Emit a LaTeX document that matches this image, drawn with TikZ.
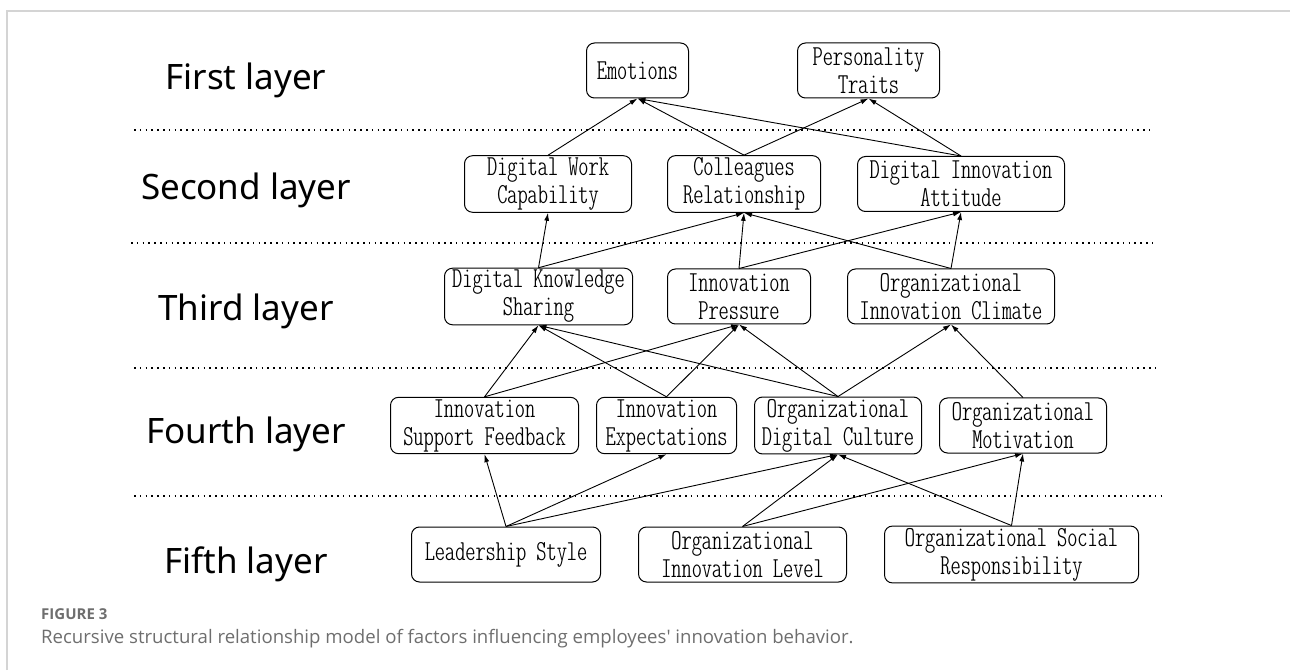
\documentclass[tikz,border=0pt]{standalone}
\usepackage{fontspec}
\usepackage{xcolor}
\usepackage{tikz}
\usetikzlibrary{positioning}
\usetikzlibrary{arrows.meta}
\newfontfamily\layerfont{Noto Sans}
\newfontfamily\capfont{Open Sans}
\newcommand{\boxfont}{\ttfamily\fontseries{lc}\fontsize{29}{28}\selectfont}
\definecolor{framegray}{RGB}{212,212,212}
\definecolor{capgray}{RGB}{110,110,110}
\tikzset{
  myarrow/.style={
    draw=black,
    line width=0.9pt,
    -{Latex[length=8pt,width=5pt]},
  },
  mybox/.style={
    draw=black,
    shape=rectangle,
    line width=1pt,
    rounded corners=8pt,
    align=center,
    inner sep=2pt,
    minimum height=55pt,
    font=\boxfont,
  },
  mylayer/.style={
    anchor=base,
    font=\layerfont\fontsize{35}{40}\selectfont,
  },
  mydots/.style={
    draw=black,
    line width=1.6pt,
    dash pattern=on 1.6pt off 4.2pt,
  }
}

\begin{document}
\begin{tikzpicture}[x=1pt,y=1pt]
    \useasboundingbox (0,0) rectangle (1290,670);
    \draw[framegray, line width=2pt] (7,0) -- (7,659) -- (1290,659);

    % layer names
    \node[mylayer] (lay1) at (246,580) {First layer};
    \node[mylayer] (lay2) at (246,470) {Second layer};
    \node[mylayer] (lay3) at (246,349) {Third layer};
    \node[mylayer] (lay4) at (246,226) {Fourth layer};
    \node[mylayer] (lay5) at (246,97)  {Fifth layer};

    % separators
    \draw[mydots] (134,540) -- (1150,540);
    \draw[mydots] (131,427) -- (1153,427);
    \draw[mydots] (134,302) -- (1155,302);
    \draw[mydots] (134,174) -- (1161,174);

    % first layer
    \node[mybox, minimum width=102pt, anchor=west] (emo)  at (586,599.5) {Emotions};
    \node[mybox, minimum width=142pt] (pers) [right=108pt of emo] {Personality\\Traits};

    % second layer
    \node[mybox, minimum width=167pt, anchor=west] (dwc)  at (464,486) {Digital Work\\Capability};
    \node[mybox, minimum width=153pt] (colrel) [right=35pt of dwc]    {Colleagues\\Relationship};
    \node[mybox, minimum width=207pt] (dia)    [right=36pt of colrel] {Digital Innovation\\Attitude};

    % third layer
    \node[mybox, minimum width=188pt, anchor=west] (dks)  at (444,373.5) {Digital Knowledge\\Sharing};
    \node[mybox, minimum width=143pt] (ip)  [right=34pt of dks] {Innovation\\Pressure};
    \node[mybox, minimum width=207pt] (oic) [right=36pt of ip]  {Organizational\\Innovation Climate};

    % fourth layer
    \node[mybox, minimum width=188pt, anchor=west] (isf)  at (390,244.5) {Innovation\\Support Feedback};
    \node[mybox, minimum width=140pt] (ie)  [right=17pt of isf] {Innovation\\Expectations};
    \node[mybox, minimum width=167pt] (odc) [right=17pt of ie]  {Organizational\\Digital Culture};
    \node[mybox, minimum width=167pt] (om)  [right=17pt of odc] {Organizational\\Motivation};

    % fifth layer
    \node[mybox, minimum width=189pt, anchor=west] (ls)  at (411,115.5) {Leadership Style};
    \node[mybox, minimum width=208pt] (oil) [right=37pt of ls]  {Organizational\\Innovation Level};
    \node[mybox, minimum width=254pt] (osr) [right=37pt of oil] {Organizational Social\\Responsibility};

    % second -> first
    \draw[myarrow] (dwc.north)    -- (emo.south);
    \draw[myarrow] (colrel.north) -- (emo.south);
    \draw[myarrow] (colrel.north) -- (pers.south);
    \draw[myarrow] (dia.north)    -- (emo.south);
    \draw[myarrow] (dia.north)    -- (pers.south);

    % third -> second
    \draw[myarrow] (dks.north) -- (dwc.south);
    \draw[myarrow] (dks.north) -- (colrel.south);
    \draw[myarrow] (ip.north)  -- (colrel.south);
    \draw[myarrow] (ip.north)  -- (dia.south);
    \draw[myarrow] (oic.north) -- (colrel.south);
    \draw[myarrow] (oic.north) -- (dia.south);

    % fourth -> third
    \draw[myarrow] (isf.north) -- (dks.south);
    \draw[myarrow] (isf.north) -- (ip.south);
    \draw[myarrow] (ie.north)  -- (dks.south);
    \draw[myarrow] (ie.north)  -- (ip.south);
    \draw[myarrow] (odc.north) -- (dks.south);
    \draw[myarrow] (odc.north) -- (ip.south);
    \draw[myarrow] (odc.north) -- (oic.south);
    \draw[myarrow] (om.north)  -- (oic.south);

    % fifth -> fourth
    \draw[myarrow] (ls.north)  -- (isf.south);
    \draw[myarrow] (ls.north)  -- (ie.south);
    \draw[myarrow] (ls.north)  -- (odc.south);
    \draw[myarrow] (oil.north) -- (odc.south);
    \draw[myarrow] (oil.north) -- (om.south);
    \draw[myarrow] (osr.north) -- (odc.south);
    \draw[myarrow] (osr.north) -- (om.south);

    % caption
    \node[anchor=base west, inner sep=0pt, text=capgray, font=\capfont\fontsize{15}{18}\selectfont\bfseries] (fignum) at (41,51) {FIGURE 3};
    \node[anchor=base west, inner sep=0pt, text=capgray, font=\capfont\fontsize{18.6}{22}\selectfont] (figcap) at (41,27) {Recursive structural relationship model of factors influencing employees' innovation behavior.};
\end{tikzpicture}
\end{document}
